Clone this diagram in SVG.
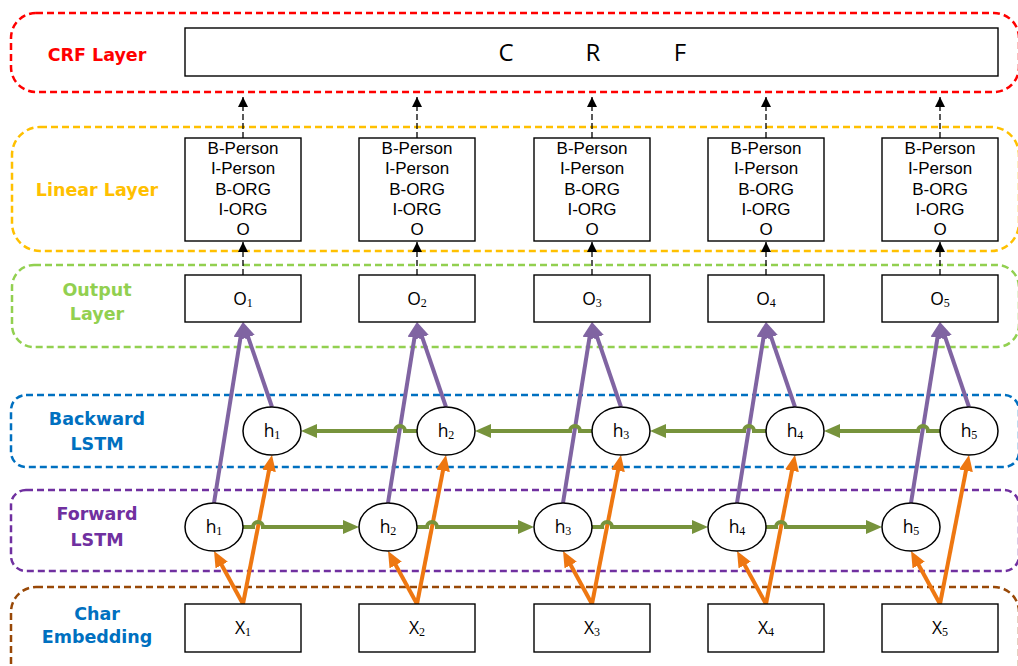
<svg xmlns="http://www.w3.org/2000/svg" width="1018" height="666" viewBox="0 0 1018 666">
<style>
.layer{fill:none;stroke-width:2.5;stroke-dasharray:7 4}
.lbl{font-family:"DejaVu Sans",sans-serif;font-weight:bold;font-size:17.5px;text-anchor:middle}
.box{fill:#fff;stroke:#000;stroke-width:1.4}
.ell{fill:#fff;stroke:#000;stroke-width:1.5}
.t{font-family:"Open Sans",sans-serif;font-size:17.5px;text-anchor:middle;fill:#000}
.tl{font-family:"Liberation Sans",Arial,sans-serif;font-size:17px;text-anchor:middle;fill:#000}
.sub{font-family:"Liberation Serif",serif;font-size:12px}
.crf{font-family:"Open Sans",sans-serif;font-size:24px;text-anchor:middle;fill:#000}
.or{fill:none;stroke:#EE7711;stroke-width:4;marker-end:url(#ao)}
.pu{fill:none;stroke:#8064A2;stroke-width:4;marker-end:url(#ap)}
.gr{fill:none;stroke:#77933C;stroke-width:4;marker-end:url(#ag)}
.da{fill:none;stroke:#000;stroke-width:1.3;stroke-dasharray:6 3;marker-end:url(#ak)}
</style>
<defs>
<marker id="ao" markerUnits="userSpaceOnUse" markerWidth="16" markerHeight="14" refX="10" refY="7" orient="auto"><path d="M0,0 L16,7 L0,14 z" fill="#EE7711"/></marker>
<marker id="ap" markerUnits="userSpaceOnUse" markerWidth="16" markerHeight="14" refX="10" refY="7" orient="auto"><path d="M0,0 L16,7 L0,14 z" fill="#8064A2"/></marker>
<marker id="ag" markerUnits="userSpaceOnUse" markerWidth="16" markerHeight="14" refX="10" refY="7" orient="auto"><path d="M0,0 L16,7 L0,14 z" fill="#77933C"/></marker>
<marker id="ak" markerUnits="userSpaceOnUse" markerWidth="10" markerHeight="10" refX="10" refY="5" orient="auto"><path d="M0,0 L10,5 L0,10 z" fill="#000"/></marker>
</defs>
<rect width="1018" height="666" fill="#fff"/>

<g id="layers">
<rect class="layer" x="11" y="13" width="1008" height="79" rx="25" stroke="#FF0000"/>
<rect class="layer" x="12" y="127" width="1007" height="124" rx="28" stroke="#FFC000"/>
<rect class="layer" x="12" y="265" width="1007" height="82" rx="22" stroke="#92D050"/>
<rect class="layer" x="11" y="395" width="1008" height="72" rx="15" stroke="#0070C0"/>
<rect class="layer" x="11" y="490" width="1008" height="81" rx="15" stroke="#7030A0"/>
<rect class="layer" x="11" y="587" width="1008" height="110" rx="25" stroke="#984807"/>
<text class="lbl" x="97" y="61" fill="#FF0000">CRF Layer</text>
<text class="lbl" x="97" y="196" fill="#FFC000">Linear Layer</text>
<text class="lbl" x="97" y="296" fill="#92D050">Output</text>
<text class="lbl" x="97" y="320" fill="#92D050">Layer</text>
<text class="lbl" x="97" y="425" fill="#0070C0">Backward</text>
<text class="lbl" x="97" y="450" fill="#0070C0">LSTM</text>
<text class="lbl" x="97" y="520" fill="#7030A0">Forward</text>
<text class="lbl" x="97" y="546" fill="#7030A0">LSTM</text>
<text class="lbl" x="97" y="620" fill="#0070C0">Char</text>
<text class="lbl" x="97" y="643" fill="#0070C0">Embedding</text>
</g>

<g id="connectors">
<path class="da" d="M243,138 V97"/><path class="da" d="M417,138 V97"/><path class="da" d="M592,138 V97"/><path class="da" d="M766,138 V97"/><path class="da" d="M940,138 V97"/>
<path class="da" d="M243,275 V242"/><path class="da" d="M417,275 V242"/><path class="da" d="M592,275 V242"/><path class="da" d="M766,275 V242"/><path class="da" d="M940,275 V242"/>
<path class="or" d="M243,604 L216.9,556.3"/><path class="or" d="M243,604 L270.85,460.9"/>
<path class="or" d="M417,604 L390.9,556.3"/><path class="or" d="M417,604 L444.85,460.9"/>
<path class="or" d="M592,604 L565.9,556.3"/><path class="or" d="M592,604 L619.85,460.9"/>
<path class="or" d="M766,604 L739.9,556.3"/><path class="or" d="M766,604 L793.85,460.9"/>
<path class="or" d="M940,604 L913.9,556.3"/><path class="or" d="M940,604 L967.85,460.9"/>
<path class="pu" d="M214,503 L242.05,327.9"/><path class="pu" d="M272,407 L244.94,327.7"/>
<path class="pu" d="M388,503 L416.05,327.9"/><path class="pu" d="M446,407 L418.94,327.7"/>
<path class="pu" d="M563,503 L591.05,327.9"/><path class="pu" d="M621,407 L593.94,327.7"/>
<path class="pu" d="M737,503 L765.05,327.9"/><path class="pu" d="M795,407 L767.94,327.7"/>
<path class="pu" d="M911,503 L939.05,327.9"/><path class="pu" d="M969,407 L941.94,327.7"/>
<path class="gr" d="M243,527 H253 a5,5 0 0 1 10,0 H353"/>
<path class="gr" d="M417,527 H427 a5,5 0 0 1 10,0 H528"/>
<path class="gr" d="M592,527 H602 a5,5 0 0 1 10,0 H702"/>
<path class="gr" d="M766,527 H776 a5,5 0 0 1 10,0 H876"/>
<path class="gr" d="M417,431 H405 a5,5 0 0 0 -10,0 H307"/>
<path class="gr" d="M592,431 H580 a5,5 0 0 0 -10,0 H481"/>
<path class="gr" d="M766,431 H754 a5,5 0 0 0 -10,0 H656"/>
<path class="gr" d="M940,431 H928 a5,5 0 0 0 -10,0 H830"/>
</g>

<g id="crf">
<rect class="box" x="185" y="28" width="813" height="48"/>
<text class="crf" x="506" y="61">C</text>
<text class="crf" x="593" y="61">R</text>
<text class="crf" x="680" y="61">F</text>
</g>

<g id="linear1" transform="translate(185,0)">
<rect class="box" x="0" y="138" width="116" height="103"/>
<text class="tl" x="58" y="154">B-Person</text><text class="tl" x="58" y="174">I-Person</text><text class="tl" x="58" y="194.5">B-ORG</text><text class="tl" x="58" y="214.5">I-ORG</text><text class="tl" x="58" y="235">O</text>
</g>
<g id="linear2" transform="translate(359,0)">
<rect class="box" x="0" y="138" width="116" height="103"/>
<text class="tl" x="58" y="154">B-Person</text><text class="tl" x="58" y="174">I-Person</text><text class="tl" x="58" y="194.5">B-ORG</text><text class="tl" x="58" y="214.5">I-ORG</text><text class="tl" x="58" y="235">O</text>
</g>
<g id="linear3" transform="translate(534,0)">
<rect class="box" x="0" y="138" width="116" height="103"/>
<text class="tl" x="58" y="154">B-Person</text><text class="tl" x="58" y="174">I-Person</text><text class="tl" x="58" y="194.5">B-ORG</text><text class="tl" x="58" y="214.5">I-ORG</text><text class="tl" x="58" y="235">O</text>
</g>
<g id="linear4" transform="translate(708,0)">
<rect class="box" x="0" y="138" width="116" height="103"/>
<text class="tl" x="58" y="154">B-Person</text><text class="tl" x="58" y="174">I-Person</text><text class="tl" x="58" y="194.5">B-ORG</text><text class="tl" x="58" y="214.5">I-ORG</text><text class="tl" x="58" y="235">O</text>
</g>
<g id="linear5" transform="translate(882,0)">
<rect class="box" x="0" y="138" width="116" height="103"/>
<text class="tl" x="58" y="154">B-Person</text><text class="tl" x="58" y="174">I-Person</text><text class="tl" x="58" y="194.5">B-ORG</text><text class="tl" x="58" y="214.5">I-ORG</text><text class="tl" x="58" y="235">O</text>
</g>

<g id="out1"><rect class="box" x="185" y="275" width="116" height="47"/><text class="t" x="243" y="305">O<tspan class="sub" dy="2">1</tspan></text></g>
<g id="out2"><rect class="box" x="359" y="275" width="116" height="47"/><text class="t" x="417" y="305">O<tspan class="sub" dy="2">2</tspan></text></g>
<g id="out3"><rect class="box" x="534" y="275" width="116" height="47"/><text class="t" x="592" y="305">O<tspan class="sub" dy="2">3</tspan></text></g>
<g id="out4"><rect class="box" x="708" y="275" width="116" height="47"/><text class="t" x="766" y="305">O<tspan class="sub" dy="2">4</tspan></text></g>
<g id="out5"><rect class="box" x="882" y="275" width="116" height="47"/><text class="t" x="940" y="305">O<tspan class="sub" dy="2">5</tspan></text></g>

<g id="bh1"><ellipse class="ell" cx="272" cy="431" rx="29" ry="24"/><text class="t" x="272" y="437">h<tspan class="sub" dy="2">1</tspan></text></g>
<g id="bh2"><ellipse class="ell" cx="446" cy="431" rx="29" ry="24"/><text class="t" x="446" y="437">h<tspan class="sub" dy="2">2</tspan></text></g>
<g id="bh3"><ellipse class="ell" cx="621" cy="431" rx="29" ry="24"/><text class="t" x="621" y="437">h<tspan class="sub" dy="2">3</tspan></text></g>
<g id="bh4"><ellipse class="ell" cx="795" cy="431" rx="29" ry="24"/><text class="t" x="795" y="437">h<tspan class="sub" dy="2">4</tspan></text></g>
<g id="bh5"><ellipse class="ell" cx="969" cy="431" rx="29" ry="24"/><text class="t" x="969" y="437">h<tspan class="sub" dy="2">5</tspan></text></g>

<g id="fh1"><ellipse class="ell" cx="214" cy="527" rx="29" ry="24"/><text class="t" x="214" y="533">h<tspan class="sub" dy="2">1</tspan></text></g>
<g id="fh2"><ellipse class="ell" cx="388" cy="527" rx="29" ry="24"/><text class="t" x="388" y="533">h<tspan class="sub" dy="2">2</tspan></text></g>
<g id="fh3"><ellipse class="ell" cx="563" cy="527" rx="29" ry="24"/><text class="t" x="563" y="533">h<tspan class="sub" dy="2">3</tspan></text></g>
<g id="fh4"><ellipse class="ell" cx="737" cy="527" rx="29" ry="24"/><text class="t" x="737" y="533">h<tspan class="sub" dy="2">4</tspan></text></g>
<g id="fh5"><ellipse class="ell" cx="911" cy="527" rx="29" ry="24"/><text class="t" x="911" y="533">h<tspan class="sub" dy="2">5</tspan></text></g>

<g id="x1"><rect class="box" x="185" y="604" width="116" height="48"/><text class="t" x="243" y="634">X<tspan class="sub" dy="2">1</tspan></text></g>
<g id="x2"><rect class="box" x="359" y="604" width="116" height="48"/><text class="t" x="417" y="634">X<tspan class="sub" dy="2">2</tspan></text></g>
<g id="x3"><rect class="box" x="534" y="604" width="116" height="48"/><text class="t" x="592" y="634">X<tspan class="sub" dy="2">3</tspan></text></g>
<g id="x4"><rect class="box" x="708" y="604" width="116" height="48"/><text class="t" x="766" y="634">X<tspan class="sub" dy="2">4</tspan></text></g>
<g id="x5"><rect class="box" x="882" y="604" width="116" height="48"/><text class="t" x="940" y="634">X<tspan class="sub" dy="2">5</tspan></text></g>
</svg>
